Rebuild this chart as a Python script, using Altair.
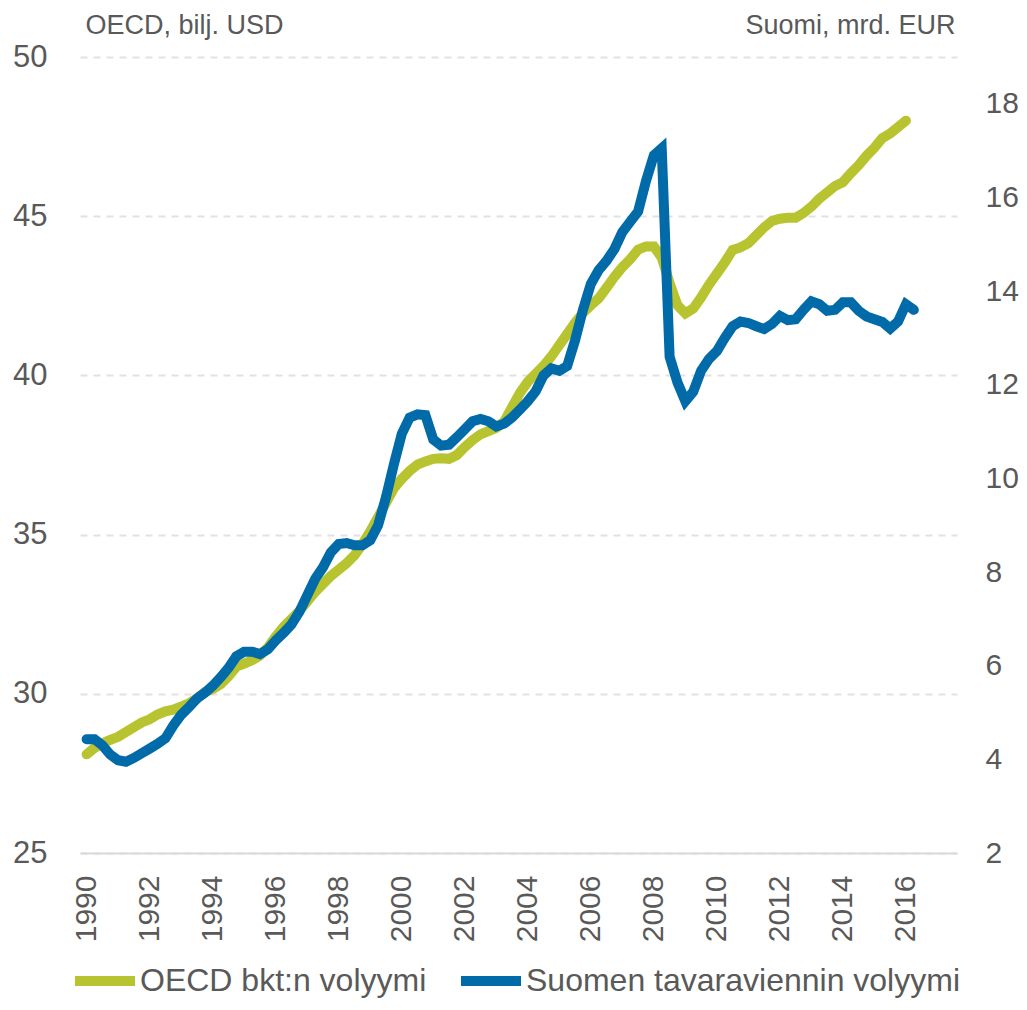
import altair as alt
import pandas as pd

# ---- data (quarterly, starting 1990 Q1) ----
series_names = ["OECD bkt:n volyymi", "Suomen tavaraviennin volyymi"]
series_colors = ["#B8C42F", "#006BA8"]

oecd_gdp = [
    28.1, 28.3, 28.45, 28.55, 28.65, 28.8, 28.95, 29.1, 29.2, 29.35,
    29.45, 29.5, 29.6, 29.7, 29.85, 30.05, 30.15, 30.3, 30.55, 30.85,
    30.95, 31.05, 31.2, 31.45, 31.8, 32.1, 32.35, 32.6, 32.9, 33.2,
    33.45, 33.7, 33.9, 34.1, 34.35, 34.7, 35.1, 35.55, 36.0, 36.45,
    36.75, 37.0, 37.2, 37.3, 37.38, 37.4, 37.38, 37.5, 37.75, 37.97,
    38.15, 38.25, 38.35, 38.55, 39.0, 39.45, 39.8, 40.05, 40.3, 40.6,
    40.95, 41.3, 41.65, 41.96, 42.2, 42.42, 42.75, 43.1, 43.4, 43.65,
    43.95, 44.05, 44.05, 43.7, 42.9, 42.2, 41.95, 42.1, 42.45, 42.85,
    43.2, 43.55, 43.94, 44.02, 44.15, 44.4, 44.65, 44.85, 44.92, 44.95,
    44.95, 45.1, 45.3, 45.55, 45.75, 45.95, 46.07, 46.35, 46.6, 46.9,
    47.15, 47.45, 47.6, 47.8, 48.0,
]

fin_exports = [
    4.43, 4.43, 4.3, 4.1, 3.98, 3.95, 4.03, 4.13, 4.23, 4.33,
    4.45, 4.72, 4.95, 5.12, 5.3, 5.42, 5.57, 5.75, 5.95, 6.2,
    6.3, 6.3, 6.25, 6.35, 6.54, 6.7, 6.88, 7.15, 7.5, 7.85,
    8.1, 8.42, 8.6, 8.62, 8.57, 8.57, 8.68, 9.0, 9.6, 10.3,
    10.95, 11.3, 11.37, 11.35, 10.83, 10.7, 10.72, 10.88, 11.05, 11.22,
    11.27, 11.22, 11.11, 11.17, 11.3, 11.47, 11.65, 11.86, 12.2, 12.35,
    12.3, 12.4, 12.95, 13.6, 14.15, 14.45, 14.65, 14.9, 15.26, 15.48,
    15.7, 16.35, 16.9, 17.05, 12.6, 12.05, 11.65, 11.85, 12.3, 12.55,
    12.72, 13.0, 13.25, 13.35, 13.32, 13.25, 13.19, 13.3, 13.47, 13.38,
    13.4, 13.6, 13.78, 13.72, 13.58, 13.6, 13.76, 13.76, 13.58, 13.46,
    13.4, 13.34, 13.2, 13.35, 13.72, 13.6,
]

start_year = 1990
x_ticks = [1990, 1992, 1994, 1996, 1998, 2000, 2002, 2004, 2006, 2008, 2010, 2012, 2014, 2016]
left_ticks = [25, 30, 35, 40, 45, 50]
right_ticks = [2, 4, 6, 8, 10, 12, 14, 16, 18]

df_oecd = pd.DataFrame({
    "t": [start_year + i / 4 for i in range(len(oecd_gdp))],
    "value": oecd_gdp,
    "series": series_names[0],
})
df_fin = pd.DataFrame({
    "t": [start_year + i / 4 for i in range(len(fin_exports))],
    "value": fin_exports,
    "series": series_names[1],
})

FONT = "Liberation Sans, Arial, sans-serif"
GRAY = "#595959"

x_enc = alt.X(
    "t:Q",
    scale=alt.Scale(domain=[1989.79, 2017.62], nice=False, zero=False),
    axis=alt.Axis(
        values=x_ticks, format="d", labelAngle=-90, labelFont=FONT,
        labelFontSize=30, labelColor=GRAY, labelPadding=22, ticks=False,
        domain=True, domainColor="#d9d9d9", domainWidth=2, grid=False,
        title=None, labelOverlap=False,
    ),
)

color_enc = alt.Color(
    "series:N",
    scale=alt.Scale(domain=series_names, range=series_colors),
    legend=alt.Legend(
        orient="none", legendX=-10, legendY=889, direction="horizontal",
        title=None, symbolType="stroke", symbolSize=3600, symbolStrokeWidth=10,
        labelFont=FONT, labelFontSize=32, labelColor=GRAY, labelOffset=0,
        columnPadding=14, padding=0, labelLimit=600,
    ),
)

green = alt.Chart(df_oecd).mark_line(strokeWidth=10, strokeCap="round").encode(
    x=x_enc,
    y=alt.Y(
        "value:Q",
        scale=alt.Scale(domain=[25, 50], nice=False, zero=False),
        axis=alt.Axis(
            values=left_ticks, orient="left", labelFont=FONT, labelFontSize=31,
            labelColor=GRAY, labelPadding=33, ticks=False, domain=False,
            grid=True, gridColor="#e2e2e2", gridDash=[7, 6], gridWidth=2,
            title="OECD, bilj. USD", titleAngle=0, titleAlign="left",
            titleBaseline="alphabetic", titleX=5, titleY=-24, titleFont=FONT,
            titleFontSize=27, titleFontWeight="normal", titleColor=GRAY,
        ),
    ),
    color=color_enc,
)

blue = alt.Chart(df_fin).mark_line(strokeWidth=10, strokeCap="round").encode(
    x=x_enc,
    y=alt.Y(
        "value:Q",
        scale=alt.Scale(domain=[2, 19], nice=False, zero=False),
        axis=alt.Axis(
            values=right_ticks, orient="right", labelFont=FONT, labelFontSize=30,
            labelColor=GRAY, labelPadding=28, ticks=False, domain=False,
            grid=False,
            title="Suomi, mrd. EUR", titleAngle=0, titleAlign="right",
            titleBaseline="alphabetic", titleX=-2, titleY=-24, titleFont=FONT,
            titleFontSize=27, titleFontWeight="normal", titleColor=GRAY,
        ),
    ),
    color=color_enc,
)

chart = (
    alt.layer(green, blue)
    .resolve_scale(y="independent")
    .properties(
        width=877, height=796,
        autosize=alt.AutoSizeParams(type="none"),
        padding={"left": 72, "top": 49, "right": 62, "bottom": 145},
        background="white",
    )
    .configure_view(stroke=None)
)

chart.save("out.html", embed_options={"renderer": "svg", "actions": False})
